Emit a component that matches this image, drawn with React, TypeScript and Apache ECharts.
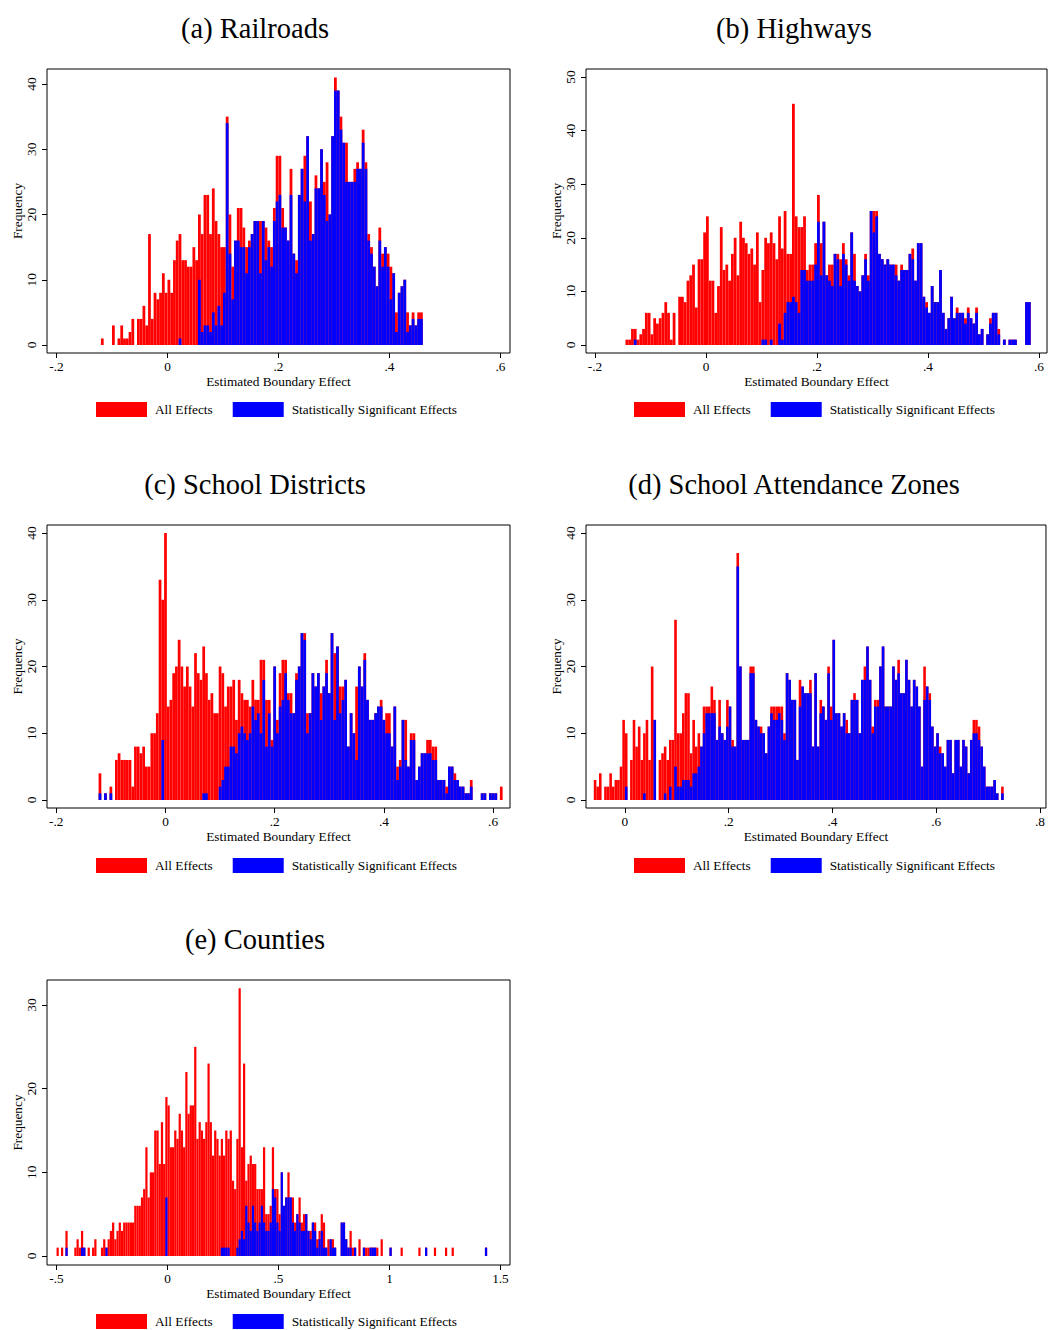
import React, { useEffect, useRef } from 'react';
import * as echarts from 'echarts';

const RED = '#ff0000';
const BLUE = '#0000ff';
const FONT = '"Liberation Serif", "Times New Roman", serif';
const SMALL = 13.3;
const TITLE_SIZE = 28.5;

const LEGEND_NAMES = ['All Effects', 'Statistically Significant Effects'];
const X_TITLE = 'Estimated Boundary Effect';
const Y_TITLE = 'Frequency';

// (a) Railroads — bins of width .005 starting at -.12
const A_START = -0.12;
const A_WIDTH = 0.005;
const aAll = [
  1,0,0,0,3,0,1,3,1,1, 2,4,0,4,4,6,3,17,4,8, 7,8,11,8,10,8,13,16,17,13,
  13,12,12,15,13,20,17,23,23,17, 24,19,17,15,15,35,20,12,16,21, 21,18,15,16,17,19,19,19,19,18,
  16,15,21,29,29,21,18,16,27,14, 13,23,27,29,32,22,17,26,24,30, 25,28,20,32,41,39,35,31,31,25,
  25,27,28,27,33,28,17,15,12,9, 18,14,15,14,12,11,5,8,9,10, 5,3,5,3,5,5,
];
const aSig = [
  0,0,0,0,0,0,0,0,0,0, 0,0,0,0,0,0,0,0,0,0, 0,0,0,0,0,0,0,0,1,0,
  0,0,0,0,0,10,2,3,3,2, 5,3,6,3,8,34,14,7,16,16, 15,15,11,15,17,19,19,11,19,13,
  15,12,19,22,23,18,18,16,23,14, 11,23,27,22,32,16,17,24,24,30, 23,19,20,32,39,39,33,31,25,25,
  25,25,27,27,31,27,16,14,12,9, 16,12,15,12,7,11,2,8,9,10, 2,3,4,3,4,4,
];
const aXTicks = [-0.2, 0, 0.2, 0.4, 0.6];
const aYTicks = [0, 10, 20, 30, 40];

// (b) Highways — bins of width .005 starting at -.145
const B_START = -0.145;
const B_WIDTH = 0.005;
const bAll = [
  1,1,3,3,1,2,3,6,6,2, 5,4,5,6,8,6,1,6,0,9, 9,8,12,13,15,7,16,16,21,24,
  12,12,6,11,22,14,15,12,17,20, 13,23,20,19,17,18,15,21,8,14, 20,19,21,19,16,24,18,25,17,17,
  45,24,22,22,24,14,15,15,19,28, 19,23,13,15,15,17,17,16,19,16, 13,21,17,11,10,13,17,13,25,25,
  25,17,16,15,16,15,15,15,12,15, 14,14,17,18,12,19,19,9,8,6, 11,8,8,14,6,3,5,9,5,7,
  6,6,5,7,5,4,7,2,3,0, 2,5,6,6,3,0,1,0,1,1, 1,0,0,0,8,8,
];
const bSig = [
  0,0,0,1,0,0,0,0,0,0, 0,0,0,0,0,0,0,0,0,0, 0,0,0,0,0,0,0,0,0,0,
  0,0,0,0,0,0,0,0,0,0, 0,0,0,0,0,0,0,0,0,1, 1,0,1,0,0,4,1,6,8,8,
  9,8,6,14,14,12,12,12,15,23, 13,23,13,12,11,17,16,11,17,15, 12,21,12,11,10,13,16,12,25,21,
  24,17,16,15,16,15,15,13,12,14, 14,14,17,16,12,19,19,9,7,6, 11,8,8,14,6,3,5,9,5,6,
  6,6,4,6,5,4,6,2,3,0, 2,4,6,6,2,0,1,0,1,1, 1,0,0,0,8,8,
];
const bXTicks = [-0.2, 0, 0.2, 0.4, 0.6];
const bYTicks = [0, 10, 20, 30, 40, 50];

// (c) School Districts — bins of width .005 starting at -.1225
const C_START = -0.1225;
const C_WIDTH = 0.005;
const cAll = [
  4,0,1,0,2,0,6,7,6,6, 6,6,2,8,8,7,8,5,5,10, 10,13,33,30,40,14,15,19,20,24,
  20,17,20,17,14,22,19,18,23,19, 15,16,13,13,20,19,14,17,17,18, 12,18,16,15,15,14,18,15,15,21,
  21,15,15,9,20,12,19,21,21,16, 16,13,19,20,25,25,13,13,19,17, 19,16,17,21,16,25,22,23,17,17,
  18,8,13,10,17,20,17,22,15,12, 12,13,14,15,12,13,13,8,14,5, 6,12,12,5,10,10,3,5,7,7,
  9,9,8,8,3,3,3,2,5,5, 4,3,2,2,1,1,3,0,0,0, 1,1,0,1,1,1,0,2,
];
const cSig = [
  1,0,1,0,1,0,0,0,0,0, 0,0,0,0,0,0,0,0,0,0, 0,0,0,9,0,0,0,0,0,0,
  0,0,0,0,0,0,0,0,1,1, 0,0,0,0,2,3,5,5,8,8, 7,10,11,10,9,10,14,12,13,10,
  18,8,13,8,20,10,14,15,19,15, 13,13,18,20,25,24,10,13,19,17, 19,12,17,19,16,25,12,23,13,15,
  18,8,13,10,6,20,17,21,15,12, 12,13,14,14,12,10,10,8,14,3, 5,12,6,5,9,9,3,5,7,7,
  7,7,6,6,3,3,3,1,5,5, 3,3,2,2,1,1,2,0,0,0, 1,1,0,1,1,1,0,0,
];
const cXTicks = [-0.2, 0, 0.2, 0.4, 0.6];
const cYTicks = [0, 10, 20, 30, 40];

// (d) School Attendance Zones — bins of width .005 starting at -.06
const D_START = -0.06;
const D_WIDTH = 0.005;
const dAll = [
  3,2,4,0,2,2,4,2,3,3, 5,12,10,0,6,12,8,11,6,10, 12,6,20,12,0,6,7,8,6,9,
  9,27,10,10,13,16,16,7,12,8, 10,8,14,14,14,17,15,9,15,10, 9,15,14,9,8,37,20,9,9,9,
  20,20,12,11,11,10,7,11,14,14, 14,14,14,10,19,18,15,15,6,18, 17,16,16,18,8,19,8,15,14,12,
  20,14,24,13,13,11,13,12,10,15, 16,15,10,18,20,23,18,11,15,15, 20,23,14,14,14,20,18,21,16,16,
  21,18,14,18,17,14,5,20,17,16, 11,8,10,8,7,5,9,9,4,9, 9,5,9,8,4,9,12,12,11,8,
  5,2,2,2,3,1,0,2,
];
const dSig = [
  0,0,0,0,0,0,0,0,0,0, 0,0,2,0,0,0,0,0,0,1, 0,0,0,12,0,0,0,1,0,2,
  0,5,2,2,3,3,3,2,4,4, 5,8,10,13,13,13,13,9,11,10, 9,11,14,8,8,35,20,9,9,9,
  19,19,12,11,10,10,7,11,13,12, 12,13,12,9,19,18,15,15,6,14, 17,16,16,16,8,19,8,13,14,12,
  19,12,24,13,13,11,13,10,10,15, 15,15,10,18,18,23,18,10,14,14, 20,23,14,14,14,20,18,19,16,16,
  21,18,14,18,17,14,5,15,17,15, 11,8,10,7,7,5,9,9,4,9, 9,5,9,8,4,9,10,10,9,8,
  5,2,2,2,3,1,0,1,
];
const dXTicks = [0, 0.2, 0.4, 0.6, 0.8];
const dYTicks = [0, 10, 20, 30, 40];

// (e) Counties — bins of width .01 starting at -.5
const E_START = -0.5;
const E_WIDTH = 0.01;
const eAll = [
  1,0,1,0,3,0,0,0,1,2, 1,3,1,0,1,0,1,2,0,0, 1,2,1,2,3,4,2,3,4,3,
  4,4,4,4,4,6,6,6,7,8, 13,7,10,10,15,15,11,16,11,19, 18,13,13,15,14,17,15,13,22,17,
  18,18,25,14,16,15,14,16,23,16, 12,15,14,12,14,12,15,14,15,9, 8,14,32,13,23,9,11,12,11,11,
  8,8,8,13,5,5,6,13,8,8, 5,10,6,7,10,7,7,4,5,7, 4,5,5,3,3,4,4,2,3,5,
  4,1,2,2,2,1,0,0,4,4, 2,1,3,1,1,0,2,0,1,1, 1,1,1,1,1,0,2,0,0,0,
  1,0,0,0,0,1,0,0,0,0, 0,0,0,1,0,0,1,0,0,0, 1,0,0,0,0,1,0,0,1,0,
  0,0,0,0,0,0,0,0,0,0, 0,0,0,1,
];
const eSig = [
  0,0,0,0,1,0,0,0,0,0, 0,1,1,0,0,0,0,0,0,0, 0,0,1,0,0,0,0,0,0,0,
  0,0,0,0,0,0,0,0,0,0, 0,0,0,0,0,0,0,0,0,7, 0,0,0,0,0,0,0,0,0,0,
  0,0,0,0,0,0,0,0,0,0, 0,0,0,0,1,1,1,1,0,0, 0,1,2,3,2,6,4,3,6,4,
  3,4,6,4,3,3,4,8,7,4, 3,10,6,7,7,7,4,3,5,4, 3,3,5,3,2,4,3,1,2,3,
  1,1,0,2,1,1,0,0,4,4, 2,1,1,0,1,0,0,0,1,0, 0,1,1,1,0,0,0,0,0,0,
  1,0,0,0,0,0,0,0,0,0, 0,0,0,0,0,0,1,0,0,0, 0,0,0,0,0,0,0,0,0,0,
  0,0,0,0,0,0,0,0,0,0, 0,0,0,1,
];
const eXTicks = [-0.5, 0, 0.5, 1, 1.5];
const eYTicks = [0, 10, 20, 30];

type Panel = {
  title: string;
  all: number[];
  sig: number[];
  start: number;
  width: number;
  xTicks: number[];
  yTicks: number[];
  xRange: [number, number];
  yRange: [number, number];
  frame: { l: number; t: number; r: number; b: number };
  titlePos: [number, number];
  legendPos: [number, number];
};

const panels: Panel[] = [
  {
    title: '(a) Railroads', all: aAll, sig: aSig, start: A_START, width: A_WIDTH,
    xTicks: aXTicks, yTicks: aYTicks, xRange: [-0.2171, 0.6171], yRange: [-1.226, 42.3],
    frame: { l: 47, t: 69, r: 510, b: 353 }, titlePos: [255, 28], legendPos: [96, 402],
  },
  {
    title: '(b) Highways', all: bAll, sig: bSig, start: B_START, width: B_WIDTH,
    xTicks: bXTicks, yTicks: bYTicks, xRange: [-0.2162, 0.6144], yRange: [-1.49, 51.49],
    frame: { l: 586, t: 69, r: 1047, b: 353 }, titlePos: [794, 28], legendPos: [634, 402],
  },
  {
    title: '(c) School Districts', all: cAll, sig: cSig, start: C_START, width: C_WIDTH,
    xTicks: cXTicks, yTicks: cYTicks, xRange: [-0.217, 0.631], yRange: [-1.2, 41.2],
    frame: { l: 47, t: 525, r: 510, b: 808 }, titlePos: [255, 484], legendPos: [96, 858],
  },
  {
    title: '(d) School Attendance Zones', all: dAll, sig: dSig, start: D_START, width: D_WIDTH,
    xTicks: dXTicks, yTicks: dYTicks, xRange: [-0.075, 0.8115], yRange: [-1.2, 41.2],
    frame: { l: 586, t: 525, r: 1047, b: 808 }, titlePos: [794, 484], legendPos: [634, 858],
  },
  {
    title: '(e) Counties', all: eAll, sig: eSig, start: E_START, width: E_WIDTH,
    xTicks: eXTicks, yTicks: eYTicks, xRange: [-0.543, 1.543], yRange: [-1.076, 32.99],
    frame: { l: 47, t: 980, r: 510, b: 1265 }, titlePos: [255, 939], legendPos: [96, 1314],
  },
];

function toBins(counts: number[], start: number, width: number) {
  return counts
    .map((c, i) => [start + i * width, start + (i + 1) * width, c])
    .filter((d) => d[2] > 0);
}

function fmtTick(v: number) {
  if (Math.abs(v) < 1e-9) return '0';
  const s = String(+v.toFixed(3));
  return s.replace(/^(-?)0\./, '$1.');
}

const renderBar = (_params: any, api: any) => {
  const x0 = api.value(0);
  const x1 = api.value(1);
  const c = api.value(2);
  const p0 = api.coord([x0, c]);
  const p1 = api.coord([x1, 0]);
  return {
    type: 'rect',
    shape: { x: p0[0], y: p0[1], width: p1[0] - p0[0], height: p1[1] - p0[1] },
    style: { fill: api.visual('color') },
  };
};

function buildOption() {
  const grid: any[] = [];
  const xAxis: any[] = [];
  const yAxis: any[] = [];
  const series: any[] = [];
  const legend: any[] = [];
  const graphic: any[] = [];

  panels.forEach((p, i) => {
    grid.push({
      left: p.frame.l,
      top: p.frame.t,
      width: p.frame.r - p.frame.l,
      height: p.frame.b - p.frame.t,
      show: true,
      borderColor: '#000',
      borderWidth: 1,
      backgroundColor: 'transparent',
      containLabel: false,
    });
    xAxis.push({
      type: 'value',
      gridIndex: i,
      min: p.xRange[0],
      max: p.xRange[1],
      axisLine: { show: false, onZero: false },
      axisTick: { show: true, customValues: p.xTicks, length: 5, lineStyle: { color: '#000', width: 1 } },
      axisLabel: {
        customValues: p.xTicks,
        formatter: (v: number) => fmtTick(v),
        margin: 7,
        color: '#000',
        fontFamily: FONT,
        fontSize: SMALL,
      },
      splitLine: { show: false },
      name: X_TITLE,
      nameLocation: 'middle',
      nameGap: 22,
      nameTextStyle: { color: '#000', fontFamily: FONT, fontSize: SMALL },
    });
    yAxis.push({
      type: 'value',
      gridIndex: i,
      min: p.yRange[0],
      max: p.yRange[1],
      axisLine: { show: false, onZero: false },
      axisTick: { show: true, customValues: p.yTicks, length: 5, lineStyle: { color: '#000', width: 1 } },
      axisLabel: {
        customValues: p.yTicks,
        rotate: 90,
        margin: 9,
        color: '#000',
        fontFamily: FONT,
        fontSize: SMALL,
      },
      splitLine: { show: false },
      name: Y_TITLE,
      nameLocation: 'middle',
      nameGap: 23,
      nameTextStyle: { color: '#000', fontFamily: FONT, fontSize: SMALL },
    });
    series.push({
      type: 'custom',
      name: LEGEND_NAMES[0],
      coordinateSystem: 'cartesian2d',
      xAxisIndex: i,
      yAxisIndex: i,
      itemStyle: { color: RED },
      renderItem: renderBar,
      encode: { x: [0, 1], y: 2 },
      data: toBins(p.all, p.start, p.width),
      clip: true,
      silent: true,
    });
    series.push({
      type: 'custom',
      name: LEGEND_NAMES[1],
      coordinateSystem: 'cartesian2d',
      xAxisIndex: i,
      yAxisIndex: i,
      itemStyle: { color: BLUE },
      renderItem: renderBar,
      encode: { x: [0, 1], y: 2 },
      data: toBins(p.sig, p.start, p.width),
      clip: true,
      silent: true,
    });
    legend.push({
      left: p.legendPos[0],
      top: p.legendPos[1],
      orient: 'horizontal',
      icon: 'rect',
      itemWidth: 51,
      itemHeight: 15,
      itemGap: 20,
      selectedMode: false,
      padding: 0,
      data: LEGEND_NAMES,
      textStyle: { color: '#000', fontFamily: FONT, fontSize: SMALL, padding: [0, 0, 0, 3] },
    });
    graphic.push({
      type: 'text',
      x: p.titlePos[0],
      y: p.titlePos[1],
      style: {
        text: p.title,
        fill: '#000',
        font: `${TITLE_SIZE}px ${FONT}`,
        align: 'center',
        verticalAlign: 'middle',
      },
    });
  });

  return {
    animation: false,
    backgroundColor: '#fff',
    grid,
    xAxis,
    yAxis,
    series,
    legend,
    graphic,
  };
}

export default function App() {
  const ref = useRef<HTMLDivElement>(null);
  useEffect(() => {
    if (!ref.current) return;
    const chart = echarts.init(ref.current, undefined, { renderer: 'svg' });
    chart.setOption(buildOption() as any);
    return () => chart.dispose();
  }, []);
  return (
    <div
      ref={ref}
      style={{ position: 'absolute', left: 0, top: 0, width: 1048, height: 1330, background: '#fff' }}
    />
  );
}
